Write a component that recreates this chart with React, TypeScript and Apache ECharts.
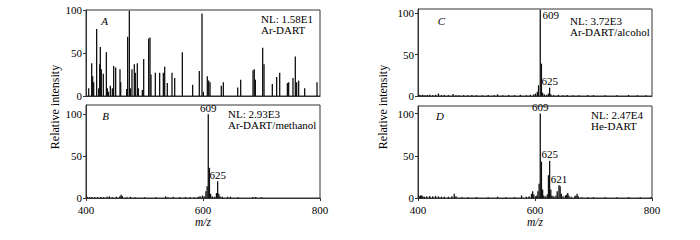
import React, { useEffect, useRef } from 'react';
import * as echarts from 'echarts';

// Panel A: Ar-DART
const A_MZ = [404.6, 409.7, 411.4, 413.1, 418.2, 421.7, 423.4, 424.5, 426.2, 429.6, 434.8, 436.5, 438.2, 441.6, 445.0, 447.3, 450.7, 458.1, 459.3, 469.5, 471.2, 474.1, 475.8, 478.6, 482.6, 484.3, 487.7, 489.5, 496.3, 498.6, 507.1, 509.4, 511.1, 518.5, 525.9, 532.2, 534.5, 539.0, 547.0, 551.6, 564.7, 582.3, 593.7, 598.3, 600.6, 607.4, 609.7, 612.0, 631.3, 634.8, 659.3, 664.4, 685.5, 687.7, 689.5, 702.0, 704.3, 718.5, 725.9, 731.1, 744.2, 746.4, 753.8, 757.8, 760.1, 763.5, 773.8, 794.9];
const A_INT = [9, 38, 23, 16, 78, 9, 37, 57, 31, 26, 51, 9, 5, 12, 9, 35, 33, 31, 16, 8, 69, 99, 9, 31, 37, 27, 38, 9, 7, 43, 67, 68, 25, 27, 27, 27, 34, 15, 27, 21, 51, 13, 29, 96, 5, 23, 18, 16, 12, 16, 10, 19, 30, 31, 19, 56, 37, 14, 22, 27, 15, 16, 21, 46, 16, 18, 9, 16];

// Panel B: Ar-DART/methanol
const B_MZ = [402, 406, 410, 415, 420, 425, 430, 436, 440, 445, 452, 458, 460, 462, 470, 476, 484, 500, 520, 536, 540, 549, 560, 570, 578, 585, 592, 595, 599, 602, 605, 607, 609, 611, 613, 616, 620, 623, 625, 627, 629, 633, 642, 647, 660, 685, 690, 700];
const B_INT = [1.5, 1, 1.2, 1, 1, 1.2, 1, 1.5, 2, 1, 1.5, 2, 4, 2.5, 1, 1.5, 1, 1, 1, 2, 1, 1.5, 1, 1.2, 1, 1, 1.5, 2, 3, 2, 8, 14, 100, 36, 5, 2, 1.5, 6, 20, 5, 2, 1.5, 1.5, 1.5, 1, 1.2, 1.2, 1];

// Panel C: Ar-DART/alcohol
const C_MZ = [402, 405, 408, 412, 416, 420, 425, 430, 435, 440, 445, 452, 460, 465, 470, 478, 485, 492, 500, 510, 520, 530, 536, 545, 555, 565, 575, 585, 592, 598, 601, 604, 606, 609, 611, 613, 616, 620, 623, 625, 627, 632, 640, 648, 655, 665, 675, 690, 700, 720, 740, 760, 775, 790];
const C_INT = [1.5, 1, 1.5, 1, 1.2, 1.5, 1, 1.5, 3, 1, 1.2, 1, 2.5, 1, 1, 1, 1, 1.2, 1, 1, 1.2, 1, 2, 1, 1.2, 1, 1.5, 1, 1.5, 2, 3, 5, 13, 104, 39, 4, 2, 1.5, 3, 10, 2, 1, 1.5, 1, 1.2, 1, 1, 1.2, 1, 1, 1, 1.2, 1, 1];

// Panel D: He-DART
const D_MZ = [402, 404, 406, 408, 411, 415, 420, 425, 430, 435, 440, 445, 452, 458, 462, 465, 475, 485, 500, 520, 536, 550, 565, 577, 585, 590, 594, 596, 598, 601, 603, 605, 607, 609, 611, 613, 615, 618, 621, 623, 625, 627, 629, 632, 636, 638, 641, 643, 645, 648, 652, 654, 656, 658, 662, 668, 670, 672, 674, 680, 690, 700, 720, 740, 760, 780, 798];
const D_INT = [2, 3, 3, 2, 1.5, 2, 2.5, 2, 2.5, 2, 1.5, 1.5, 1.5, 2, 5, 2, 1, 1, 1, 1, 1.5, 1, 1, 3, 1.5, 2, 5, 8, 4, 2, 3, 8, 17, 100, 43, 10, 3, 2, 4, 27, 44, 10, 3, 2, 3, 8, 15, 14, 5, 2, 3, 4, 6, 3, 1.5, 2, 3, 5, 2, 1, 1, 1, 1, 1, 1, 1, 1];

// Peak annotations: [m/z, text]
const B_LABELS: [number, string][] = [[609, '609'], [625, '625']];
const C_LABELS: [number, string][] = [[609, '609'], [625, '625']];
const D_LABELS: [number, string][] = [[609, '609'], [625, '625'], [641, '621']];

const Y_TICKS = [0, 50, 100];
const X_TICKS = [400, 600, 800];
const X_MIN = 400;
const X_MAX = 800;

const FONT = "'Liberation Serif', 'Times New Roman', serif";

export default function App() {
  const ref = useRef<HTMLDivElement>(null);
  useEffect(() => {
    if (!ref.current) return;
    const chart = echarts.init(ref.current, undefined, { renderer: 'svg' });

    const grids = [
      { left: 86, top: 10, width: 234, height: 86 },
      { left: 86, top: 105, width: 234, height: 93 },
      { left: 418, top: 9, width: 234, height: 87 },
      { left: 418, top: 106, width: 234, height: 92 },
    ];
    const yMax = [100, 111, 105, 109];
    const showX = [false, true, false, true];

    const build = (mz: number[], it: number[], labels: [number, string][], rightLabel609: boolean) =>
      mz.map((m, i) => {
        const lab = labels.find((l) => l[0] === m);
        if (!lab) return [m, it[i]];
        const isRight = rightLabel609 && lab[1] === '609';
        return {
          value: [m, it[i]],
          label: isRight
            ? { show: true, formatter: lab[1], position: [3, 0], align: 'left', verticalAlign: 'top', fontSize: 11, fontFamily: FONT, color: '#000' }
            : { show: true, formatter: lab[1], position: 'top', distance: 1, fontSize: 11, fontFamily: FONT, color: '#000' },
        };
      });

    const datasets = [
      build(A_MZ, A_INT, [], false),
      build(B_MZ, B_INT, B_LABELS, false),
      build(C_MZ, C_INT, C_LABELS, true),
      build(D_MZ, D_INT, D_LABELS, false),
    ];

    const txt = (x: number, y: number, text: string, opts: any = {}) => ({
      type: 'text',
      x,
      y,
      style: { text, fontSize: 11, fontFamily: FONT, fill: '#000', verticalAlign: 'middle', ...opts },
    });

    chart.setOption({
      animation: false,
      backgroundColor: '#fff',
      grid: grids.map((g) => ({ ...g, show: true, borderColor: '#333', borderWidth: 1, backgroundColor: 'transparent' })),
      xAxis: grids.map((_, i) => ({
        type: 'value',
        gridIndex: i,
        min: X_MIN,
        max: X_MAX,
        interval: 200,
        axisLine: { show: true, lineStyle: { color: '#333', width: 1 } },
        axisTick: { show: showX[i], inside: false, length: 3, lineStyle: { color: '#333' }, customValues: X_TICKS },
        axisLabel: {
          show: showX[i],
          fontSize: 11,
          fontFamily: FONT,
          color: '#000',
          margin: 6,
          customValues: X_TICKS,
        },
        splitLine: { show: false },
        name: showX[i] ? 'm/z' : '',
        nameLocation: 'middle',
        nameGap: 15,
        nameTextStyle: { fontSize: 11.5, fontFamily: FONT, fontStyle: 'italic', color: '#000' },
      })),
      yAxis: grids.map((_, i) => ({
        type: 'value',
        gridIndex: i,
        min: 0,
        max: yMax[i],
        interval: 50,
        axisLine: { show: true, lineStyle: { color: '#333', width: 1 } },
        axisTick: { show: true, length: 3, lineStyle: { color: '#333' }, customValues: Y_TICKS },
        axisLabel: { fontSize: 11, fontFamily: FONT, color: '#000', margin: 4, customValues: Y_TICKS },
        splitLine: { show: false },
      })),
      series: datasets.map((d, i) => ({
        type: 'bar',
        xAxisIndex: i,
        yAxisIndex: i,
        data: d,
        barWidth: 1.3,
        itemStyle: { color: '#111' },
        clip: true,
      })),
      graphic: [
        txt(104.5, 21, 'A', { fontStyle: 'italic', align: 'center' }),
        txt(105.5, 116, 'B', { fontStyle: 'italic', align: 'center' }),
        txt(441.5, 21, 'C', { fontStyle: 'italic', align: 'center' }),
        txt(440, 116, 'D', { fontStyle: 'italic', align: 'center' }),
        txt(261, 19, 'NL: 1.58E1'),
        txt(261, 30, 'Ar-DART'),
        txt(228, 114, 'NL: 2.93E3'),
        txt(228, 125, 'Ar-DART/methanol'),
        txt(570, 21, 'NL: 3.72E3'),
        txt(570, 32, 'Ar-DART/alcohol'),
        txt(591, 115, 'NL: 2.47E4'),
        txt(591, 126, 'He-DART'),
        {
          type: 'text',
          x: 55,
          y: 107,
          rotation: Math.PI / 2,
          style: { text: 'Relative intensity', fontSize: 12, fontFamily: FONT, fill: '#000', align: 'center', verticalAlign: 'middle' },
        },
        {
          type: 'text',
          x: 383,
          y: 107,
          rotation: Math.PI / 2,
          style: { text: 'Relative intensity', fontSize: 12, fontFamily: FONT, fill: '#000', align: 'center', verticalAlign: 'middle' },
        },
      ],
    });
    return () => chart.dispose();
  }, []);
  return <div ref={ref} style={{ position: 'absolute', left: 0, top: 0, width: 700, height: 240 }} />;
}
